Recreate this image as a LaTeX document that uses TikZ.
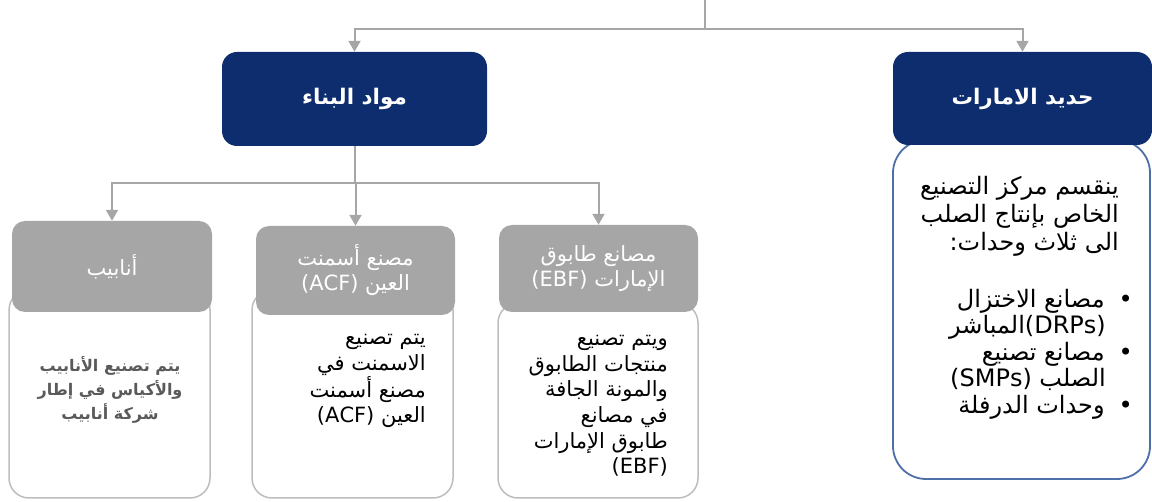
\documentclass[tikz,border=0pt]{standalone}
\usepackage{fontspec}
\usetikzlibrary{arrows.meta}
\TeXXeTstate=1
\newfontfamily\arfont[Script=Arabic]{DejaVu Sans}
\newcommand{\AR}[1]{\beginR #1\endR}
\newcommand{\LT}[1]{\beginL #1\endL}
\newcommand{\hang}{\rule{27pt}{0pt}}
\definecolor{navy}{HTML}{0E2D6E}
\definecolor{hgray}{HTML}{A6A6A6}
\definecolor{lgray}{HTML}{A6A6A6}
\definecolor{bodyline}{HTML}{BDBDBD}
\definecolor{hadidline}{HTML}{4F6FA8}
\definecolor{darktext}{HTML}{5A5A5A}
\begin{document}
\begin{tikzpicture}[x=1pt,y=-1pt,
  conn/.style={draw=lgray,line width=2pt},
  arr/.style={conn,-{Triangle[width=12pt,length=11pt]}},
  bodybox/.style={draw=bodyline,line width=1.5pt,fill=white,rounded corners=20pt,inner sep=0pt},
  hadidbody/.style={draw=hadidline,line width=1.8pt,fill=white,rounded corners=33pt,inner sep=0pt},
  navybox/.style={fill=navy,rounded corners=15pt,text=white,inner sep=0pt,
    font=\arfont\bfseries\fontsize{21.5}{24}\selectfont},
  graybox/.style={fill=hgray,rounded corners=13pt,text=white,inner sep=0pt,align=center,
    font=\arfont\fontsize{21}{25}\selectfont},
  bodytext/.style={inner sep=0pt,align=right,text=black,font=\arfont\fontsize{21}{25.7}\selectfont}
]
\useasboundingbox (0,0) rectangle (1152,502);
% body boxes
\node[bodybox,minimum width=201pt,minimum height=208pt] (anabibB) at (109.5,394) {};
\node[bodybox,minimum width=201pt,minimum height=208pt] (acfB) at (352.5,394) {};
\node[bodybox,minimum width=200pt,minimum height=195pt] (ebfB) at (598,400.5) {};
\node[hadidbody,minimum width=257pt,minimum height=339pt] (hadidB) at (1021.5,309.5) {};
% headers
\node[navybox,minimum width=265pt,minimum height=94pt] (mawad) at (354.5,99) {\AR{مواد البناء}};
\node[navybox,minimum width=259pt,minimum height=93pt] (hadid) at (1022.5,98.5) {\AR{حديد الامارات}};
\node[graybox,minimum width=200pt,minimum height=91pt] (anabib) at (112,266.5) {\AR{أنابيب}};
\node[graybox,minimum width=199pt,minimum height=89pt] (acf) at (355.5,270.5) {\AR{مصنع أسمنت}\\\AR{العين \LT{(ACF)}}};
\node[graybox,minimum width=199pt,minimum height=87pt] (ebf) at (598.5,268.5) {\AR{مصانع طابوق}\\\AR{الإمارات \LT{(EBF)}}};
% body texts
\node[inner sep=0pt,align=center,text=darktext,font=\arfont\bfseries\fontsize{16}{24}\selectfont] (anabibT) at (110,390)
  {\AR{يتم تصنيع الأنابيب}\\\AR{والأكياس في إطار}\\\AR{شركة أنابيب}};
\node[bodytext,anchor=east] (acfT) at (426,381)
  {\AR{يتم تصنيع}\\\AR{الاسمنت في}\\\AR{مصنع أسمنت}\\\AR{العين \LT{(ACF)}}};
\node[bodytext,anchor=east] (ebfT) at (668,406)
  {\AR{ويتم تصنيع}\\\AR{منتجات الطابوق}\\\AR{والمونة الجافة}\\\AR{في مصانع}\\\AR{طابوق الإمارات}\\\AR{\LT{(EBF)}}};
\node[bodytext,anchor=east,font=\arfont\fontsize{24}{28}\selectfont] (hadidT) at (1119,216)
  {\AR{ينقسم مركز التصنيع}\\\AR{الخاص بإنتاج الصلب}\\\AR{الى ثلاث وحدات:}};
\node[bodytext,anchor=east,font=\arfont\fontsize{24}{26.5}\selectfont] (hadidL) at (1133,354)
  {\AR{•\hspace{14pt}مصانع الاختزال}\\\AR{\LT{(DRPs)}المباشر}\hang\\
   \AR{•\hspace{14pt}مصانع تصنيع}\\\AR{الصلب \LT{(SMPs)}}\hang\\\AR{•\hspace{14pt}وحدات الدرفلة}};
% connectors
\coordinate (top) at (705,0);
\coordinate (j1) at (705,29);
\coordinate (j2) at (354.5,183);
\draw[conn] (top) -- (j1);
\draw[arr] (j1) -| (mawad.north);
\draw[arr] (j1) -| (hadid.north);
\draw[conn] (mawad.south) -- (j2);
\draw[arr] (j2) -| (anabib.north);
\draw[arr] (j2) -| (acf.north);
\draw[arr] (j2) -| (ebf.north);
\end{tikzpicture}
\end{document}
